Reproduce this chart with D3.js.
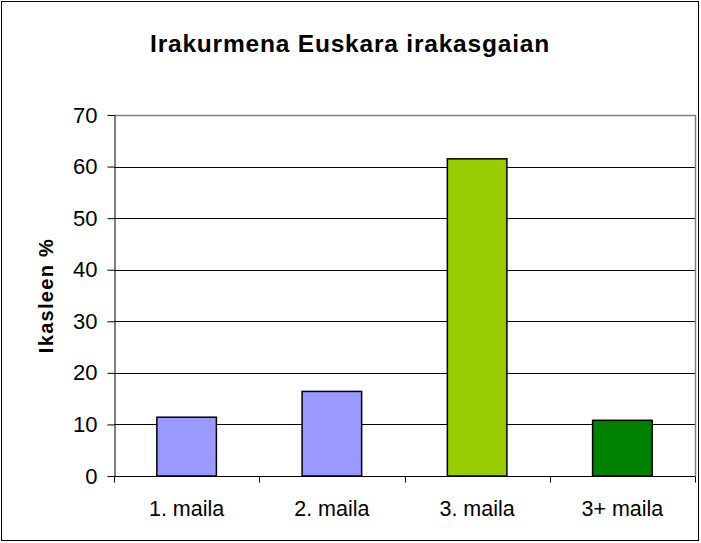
<!DOCTYPE html>
<html lang="en">
<head>
  <meta charset="UTF-8">
  <title>Irakurmena Euskara irakasgaian</title>
  <style>
    body { margin: 0; background: #fff; }
    text { font-family: Arial, "Liberation Sans", sans-serif; fill: #000; }
    .grid line { stroke: #000; stroke-width: 1px; }
    .axis path, .axis line { stroke: #000; stroke-width: 1px; }
  </style>
</head>
<body>
  <svg width="701" height="543"></svg>

  <script src="https://d3js.org/d3.v7.min.js"></script>
  <script>
    const categories = ["1. maila", "2. maila", "3. maila", "3+ maila"];
    const values = [11.4, 16.4, 61.5, 10.8];
    const colors = ["#9999ff", "#9999ff", "#99cc00", "#008000"];
    const yTicks = [0, 10, 20, 30, 40, 50, 60, 70];

    const svg = d3.select("svg");
    const margin = { left: 114, right: 6, top: 115, bottom: 67 };
    const width = 701, height = 543;
    const x0 = margin.left, x1 = width - margin.right;
    const y0 = height - margin.bottom, y1 = margin.top;

    // chart border
    svg.append("rect")
      .attr("x", 1.5).attr("y", 1.5)
      .attr("width", width - 4).attr("height", height - 4)
      .attr("fill", "#fff").attr("stroke", "#000").attr("stroke-width", 1);

    const x = d3.scaleBand().domain(categories).range([x0, x1]).paddingInner(0.59).paddingOuter(0.295);
    const xTick = d3.scaleBand().domain(categories).range([x0, x1]);
    const y = d3.scaleLinear().domain([0, 70]).range([y0, y1]);

    // gridlines
    svg.append("g").attr("class", "grid")
      .selectAll("line")
      .data(yTicks.filter(d => d > 0 && d < 70))
      .join("line")
      .attr("x1", x0).attr("x2", x1)
      .attr("y1", d => Math.round(y(d)) + 0.5).attr("y2", d => Math.round(y(d)) + 0.5);

    // plot area border (top/right gray)
    svg.append("path")
      .attr("d", `M${x0},${Math.round(y1) + 0.5}H${x1 + 0.5}V${y0}`)
      .attr("fill", "none").attr("stroke", "#808080").attr("stroke-width", 1.5);

    // bars
    svg.append("g")
      .selectAll("rect")
      .data(values)
      .join("rect")
      .attr("x", (d, i) => x(categories[i]))
      .attr("width", x.bandwidth())
      .attr("y", d => y(d))
      .attr("height", d => y0 - y(d))
      .attr("fill", (d, i) => colors[i])
      .attr("stroke", "#000")
      .attr("stroke-width", 1.5);

    // y axis
    const yAxis = svg.append("g").attr("class", "axis")
      .attr("transform", `translate(${x0 + 0.5},0)`)
      .call(d3.axisLeft(y).tickValues(yTicks).tickSize(7).tickPadding(10).tickSizeOuter(0));
    yAxis.selectAll("text")
      .style("font-size", "22px")
      .style("font-family", "Arial, 'Liberation Sans', sans-serif");
    yAxis.select(".domain").attr("stroke-width", 1.5);

    // x axis
    const xAxis = svg.append("g").attr("class", "axis")
      .attr("transform", `translate(0,${y0 + 0.5})`);
    xAxis.append("line").attr("x1", x0).attr("x2", x1 + 0.5).attr("stroke", "#000").attr("stroke-width", 1.5);
    xAxis.selectAll(".tk")
      .data(categories.concat(["end"]))
      .join("line")
      .attr("class", "tk")
      .attr("x1", (d, i) => Math.round(i < categories.length ? xTick(d) : x1) + 0.5)
      .attr("x2", (d, i) => Math.round(i < categories.length ? xTick(d) : x1) + 0.5)
      .attr("y1", 0).attr("y2", 6);
    xAxis.selectAll("text")
      .data(categories)
      .join("text")
      .attr("x", d => xTick(d) + xTick.bandwidth() / 2)
      .attr("y", 39)
      .attr("text-anchor", "middle")
      .style("font-size", "21.5px")
      .text(d => d);

    // title
    svg.append("text")
      .attr("x", 350).attr("y", 52)
      .attr("text-anchor", "middle")
      .style("font-size", "24.5px").style("font-weight", "bold")
      .style("letter-spacing", "0.8px")
      .text("Irakurmena Euskara irakasgaian");

    // y title
    svg.append("text")
      .attr("transform", `translate(53,${(y0 + y1) / 2}) rotate(-90)`)
      .attr("text-anchor", "middle")
      .style("font-size", "20px").style("font-weight", "bold")
      .style("letter-spacing", "1.3px")
      .text("Ikasleen %");
  </script>
</body>
</html>
